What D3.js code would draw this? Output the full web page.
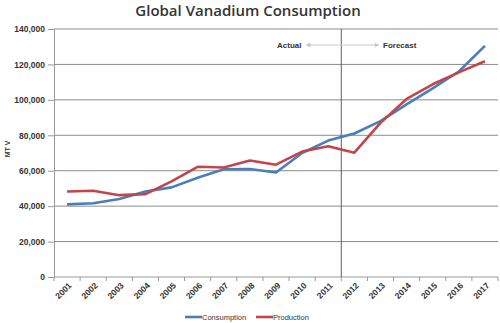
<!DOCTYPE html>
<html>
<head>
<meta charset="utf-8">
<script src="https://cdn.jsdelivr.net/npm/d3@7"></script>
<style>
  body { margin: 0; background: #fff; }
  text { font-family: "Liberation Sans", Arial, sans-serif; }
</style>
</head>
<body>
<svg id="chart" width="500" height="323"></svg>
<script>
let width = 500, height = 323;

// data
let years = ["2001", "2002", "2003", "2004", "2005", "2006", "2007", "2008", "2009",
    "2010", "2011", "2012", "2013", "2014", "2015", "2016", "2017"];
let consumption = [41000, 41600, 44000, 48300, 50600, 56000, 60800, 61000, 59000,
    70000, 77000, 81000, 88000, 97500, 106500, 116000, 130500];
let production = [48300, 48700, 46200, 46800, 54000, 62200, 61800, 65800, 63400,
    70800, 73800, 70200, 87000, 100500, 108800, 115500, 121800];
let yTicks = [0, 20000, 40000, 60000, 80000, 100000, 120000, 140000];
let series = [
    {name: "Consumption", values: consumption, color: "#4a7ebb"},
    {name: "Production", values: production, color: "#c4444a"}
];

let plotLeft = 54, plotRight = 498, plotTop = 29, plotBottom = 277;

let svg = d3.select("#chart");

let x = d3.scaleBand().domain(years).range([plotLeft, plotRight]);
let y = d3.scaleLinear().domain([0, 140000]).range([plotBottom, plotTop]);
let fmt = d3.format(",");

// title
svg.append("text")
    .attr("x", 248).attr("y", 16)
    .attr("text-anchor", "middle")
    .style("font-family", "'Open Sans', sans-serif")
    .style("font-weight", 600)
    .style("font-size", "15px")
    .attr("fill", "#333")
    .text("Global Vanadium Consumption");

// gridlines
svg.append("g")
    .selectAll("line")
    .data(yTicks.slice(1))
    .enter().append("line")
    .attr("x1", plotLeft).attr("x2", plotRight)
    .attr("y1", (d) => y(d)).attr("y2", (d) => y(d))
    .attr("stroke", "#8c8c8c")
    .attr("stroke-width", 1);

// y axis
let yAxis = svg.append("g")
    .attr("transform", "translate(" + plotLeft + ",0)")
    .call(d3.axisLeft(y).tickValues(yTicks).tickFormat(fmt).tickSize(6).tickPadding(3));
yAxis.select(".domain").attr("stroke", "#999");
yAxis.selectAll(".tick line").attr("stroke", "#999");
yAxis.selectAll(".tick text")
    .attr("fill", "#333")
    .style("font-size", "8.5px")
    .style("font-weight", "bold")
    .style("font-family", "'Liberation Sans', Arial, sans-serif");

svg.append("text")
    .attr("transform", "translate(10,149) rotate(-90)")
    .attr("text-anchor", "middle")
    .style("font-size", "7px")
    .style("font-weight", "bold")
    .attr("fill", "#333")
    .text("MT V");

// x axis: ticks at band edges
let xAxis = svg.append("g")
    .attr("transform", "translate(0," + plotBottom + ")");
xAxis.append("line")
    .attr("x1", plotLeft).attr("x2", plotRight)
    .attr("stroke", "#999");
xAxis.selectAll("line.tk")
    .data(years.concat(["end"]))
    .enter().append("line")
    .attr("class", "tk")
    .attr("x1", (d, i) => plotLeft + i * x.step())
    .attr("x2", (d, i) => plotLeft + i * x.step())
    .attr("y1", 0).attr("y2", 4)
    .attr("stroke", "#999");
xAxis.selectAll("text")
    .data(years)
    .enter().append("text")
    .attr("transform", (d) => "translate(" + (x(d) + x.bandwidth() / 2 + 3) + ",7) rotate(-45)")
    .attr("text-anchor", "end")
    .attr("dy", "0.35em")
    .style("font-size", "8.5px")
    .style("font-weight", "bold")
    .attr("fill", "#333")
    .text((d) => d);

// actual / forecast divider
svg.append("line")
    .attr("x1", x("2012")).attr("x2", x("2012"))
    .attr("y1", plotTop).attr("y2", plotBottom)
    .attr("stroke", "#4a5d8c")
    .attr("stroke-width", 1);

let defs = svg.append("defs");
defs.append("marker")
    .attr("id", "arr")
    .attr("viewBox", "0 0 6 6")
    .attr("refX", 3).attr("refY", 3)
    .attr("markerWidth", 5).attr("markerHeight", 5)
    .attr("orient", "auto-start-reverse")
    .append("path")
    .attr("d", "M0,0L6,3L0,6Z")
    .attr("fill", "#c8c8c8");

svg.append("line")
    .attr("x1", 308).attr("x2", 377)
    .attr("y1", 45).attr("y2", 45)
    .attr("stroke", "#c8c8c8")
    .attr("stroke-width", 1)
    .attr("marker-start", "url(#arr)")
    .attr("marker-end", "url(#arr)");

svg.append("text")
    .attr("x", 277).attr("y", 48)
    .style("font-size", "8px").style("font-weight", "bold")
    .attr("fill", "#333")
    .text("Actual");
svg.append("text")
    .attr("x", 383).attr("y", 48)
    .style("font-size", "8px").style("font-weight", "bold")
    .attr("fill", "#333")
    .text("Forecast");

// lines
let line = d3.line()
    .x((d, i) => x(years[i]) + x.bandwidth() / 2)
    .y((d) => y(d));

svg.append("g")
    .selectAll("path")
    .data(series)
    .enter().append("path")
    .attr("d", (d) => line(d.values))
    .attr("fill", "none")
    .attr("stroke", (d) => d.color)
    .attr("stroke-width", 2.6)
    .attr("stroke-linejoin", "round");

// legend
let legend = svg.append("g")
    .selectAll("g")
    .data(series)
    .enter().append("g")
    .attr("transform", (d, i) => "translate(" + (185 + i * 71) + ",317)");
legend.append("line")
    .attr("x1", 0).attr("x2", 17)
    .attr("stroke", (d) => d.color)
    .attr("stroke-width", 2.6);
legend.append("text")
    .attr("x", 17).attr("dy", "0.35em")
    .style("font-size", "7.5px")
    .attr("fill", "#333")
    .text((d) => d.name);
</script>
</body>
</html>
